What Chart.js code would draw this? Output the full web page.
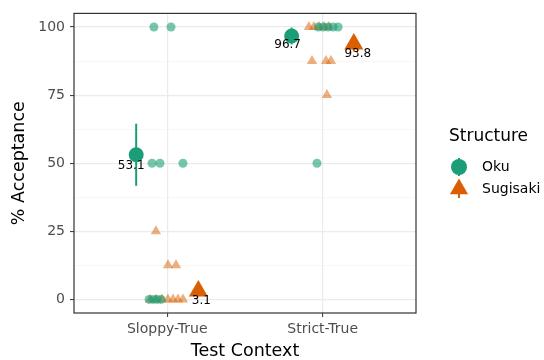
<!DOCTYPE html>
<html>
<head>
<meta charset="utf-8">
<script src="https://cdn.jsdelivr.net/npm/chart.js@4.4.1/dist/chart.umd.min.js"></script>
<style>
  html, body { margin: 0; padding: 0; background: #fff; }
  #wrap { width: 544px; height: 360px; }
</style>
</head>
<body>
<div id="wrap"><canvas id="plot" width="544" height="360"></canvas></div>
<script>
// Categories and groups
const categories = ['Sloppy-True', 'Strict-True'];
const groups = ['Oku', 'Sugisaki'];

// Raw (jittered) responses
const okuX = [0.914, 1.024, 0.902, 0.953, 1.101, 0.883, 0.909, 0.934, 0.960,
              1.971, 2.003, 2.035, 2.067, 2.099, 1.963];
const okuY = [100, 100, 50, 50, 50, 0, 0, 0, 0,
              100, 100, 100, 100, 100, 50];
const sugX = [0.927, 1.005, 1.056, 0.889, 0.927, 0.966, 1.004, 1.037, 1.069, 1.101,
              1.911, 1.943, 1.976, 2.008, 2.040, 1.931, 2.021, 2.053, 2.027];
const sugY = [25, 12.5, 12.5, 0, 0, 0, 0, 0, 0, 0,
              100, 100, 100, 100, 100, 87.5, 87.5, 87.5, 75];

// Means and intervals per category
const okuMean = [53.1, 96.7];
const okuLow = [41.7, 93.6];
const okuHigh = [64.5, 99.8];
const sugMean = [3.1, 93.8];
const sugLow = [1.2, 91.0];
const sugHigh = [5.0, 96.6];

// Y axis
const yTicks = [0, 25, 50, 75, 100];
const yGrid = [0, 12.5, 25, 37.5, 50, 62.5, 75, 87.5, 100];

// Styles
const OKU = '#1B9E77';
const SUG = '#D95F02';
const FONT = "'DejaVu Sans', sans-serif";
const dodge = [-0.2, 0.2];
const labelNudge = { Oku: [[-5, 11], [-4, 9]], Sugisaki: [[3, 10], [4, 10]] };

function pts(xs, ys) {
    return xs.map((x, i) => ({ x: x, y: ys[i] }));
}
function meanPts(means, d) {
    return means.map((m, i) => ({ x: i + 1 + d, y: m }));
}

// Error bars under the mean points, labels above everything
const meanPlugin = {
    id: 'meanPlugin',
    beforeDatasetDraw(chart, args) {
        const ds = chart.data.datasets[args.index];
        if (!ds.errLow) return;
        const { ctx, scales: { x, y } } = chart;
        ctx.save();
        ctx.strokeStyle = ds.backgroundColor;
        ctx.lineWidth = 2;
        ds.data.forEach((p, i) => {
            const px = x.getPixelForValue(p.x);
            ctx.beginPath();
            ctx.moveTo(px, y.getPixelForValue(ds.errLow[i]));
            ctx.lineTo(px, y.getPixelForValue(ds.errHigh[i]));
            ctx.stroke();
        });
        ctx.restore();
    },
    afterDatasetsDraw(chart) {
        const { ctx, scales: { x, y } } = chart;
        ctx.save();
        ctx.font = '12px ' + FONT;
        ctx.fillStyle = '#000';
        ctx.textAlign = 'center';
        ctx.textBaseline = 'middle';
        chart.data.datasets.forEach(ds => {
            if (!ds.errLow) return;
            ds.data.forEach((p, i) => {
                const n = labelNudge[ds.group][i];
                ctx.fillText(p.y.toFixed(1), x.getPixelForValue(p.x) + n[0], y.getPixelForValue(p.y) + n[1]);
            });
        });
        ctx.restore();
    },
    afterDraw(chart) {
        const { ctx, chartArea: a } = chart;
        ctx.save();
        // panel border
        ctx.strokeStyle = '#333333';
        ctx.lineWidth = 1.2;
        ctx.strokeRect(a.left, a.top, a.right - a.left, a.bottom - a.top);

        // legend
        ctx.fillStyle = '#000';
        ctx.font = '17px ' + FONT;
        ctx.textAlign = 'left';
        ctx.textBaseline = 'alphabetic';
        ctx.fillText('Structure', 449, 141);

        ctx.font = '14px ' + FONT;
        ctx.textBaseline = 'middle';
        const keys = [
            { name: groups[0], color: OKU, style: 'circle', r: 8, y: 167 },
            { name: groups[1], color: SUG, style: 'triangle', r: 10.5, y: 189 }
        ];
        keys.forEach(k => {
            ctx.strokeStyle = k.color;
            ctx.lineWidth = 2;
            ctx.beginPath();
            ctx.moveTo(459, k.y - 9);
            ctx.lineTo(459, k.y + 9);
            ctx.stroke();
            ctx.fillStyle = k.color;
            Chart.helpers.drawPoint(ctx, { pointStyle: k.style, radius: k.r, rotation: 0, borderWidth: 0 }, 459, k.y);
            ctx.fillStyle = '#000';
            ctx.fillText(k.name, 482, k.y);
        });
        ctx.restore();
    }
};

new Chart(document.getElementById('plot'), {
    type: 'scatter',
    data: {
        datasets: [
            {
                label: 'Oku raw', data: pts(okuX, okuY), pointStyle: 'circle', pointRadius: 4.5,
                backgroundColor: 'rgba(27,158,119,0.6)', borderWidth: 0
            },
            {
                label: 'Sugisaki raw', data: pts(sugX, sugY), pointStyle: 'triangle', pointRadius: 6,
                backgroundColor: 'rgba(217,95,2,0.5)', borderWidth: 0
            },
            {
                label: 'Oku', group: 'Oku', data: meanPts(okuMean, dodge[0]), errLow: okuLow, errHigh: okuHigh,
                pointStyle: 'circle', pointRadius: 7.5, backgroundColor: OKU, borderWidth: 0
            },
            {
                label: 'Sugisaki', group: 'Sugisaki', data: meanPts(sugMean, dodge[1]), errLow: sugLow, errHigh: sugHigh,
                pointStyle: 'triangle', pointRadius: 11, backgroundColor: SUG, borderWidth: 0
            }
        ]
    },
    options: {
        responsive: false,
        animation: false,
        devicePixelRatio: 1,
        layout: { padding: { top: 11, right: 128, left: 0, bottom: 0 } },
        plugins: {
            legend: { display: false },
            tooltip: { enabled: false }
        },
        scales: {
            x: {
                type: 'linear',
                min: 0.4,
                max: 2.6,
                afterBuildTicks: s => { s.ticks = categories.map((c, i) => ({ value: i + 1 })); },
                afterFit: s => { s.height = 47; },
                border: { display: false },
                grid: { color: '#EBEBEB', lineWidth: 1.2, tickColor: '#333333', tickWidth: 1, tickLength: 4 },
                ticks: {
                    callback: (v, i) => categories[i],
                    color: '#4D4D4D',
                    font: { family: FONT, size: 14 },
                    padding: 4,
                    maxRotation: 0
                },
                title: {
                    display: true, text: 'Test Context', color: '#000',
                    font: { family: FONT, size: 17.5, lineHeight: 1 },
                    padding: 0
                }
            },
            y: {
                min: -5,
                max: 105,
                afterBuildTicks: s => { s.ticks = yGrid.map(v => ({ value: v })); },
                afterFit: s => { s.width = 74; },
                border: { display: false },
                grid: {
                    color: c => yTicks.includes(c.tick.value) ? '#EBEBEB' : '#F3F3F3',
                    lineWidth: c => yTicks.includes(c.tick.value) ? 1.2 : 0.7,
                    tickColor: c => yTicks.includes(c.tick.value) ? '#333333' : 'rgba(0,0,0,0)',
                    tickWidth: 1,
                    tickLength: 4
                },
                ticks: {
                    callback: v => yTicks.includes(v) ? String(v) : '',
                    color: '#4D4D4D',
                    font: { family: FONT, size: 14 },
                    padding: 5
                },
                title: {
                    display: true, text: '% Acceptance', color: '#000',
                    font: { family: FONT, size: 17.5 },
                    padding: { top: 9, bottom: 0 }
                }
            }
        }
    },
    plugins: [meanPlugin]
});
</script>
</body>
</html>
